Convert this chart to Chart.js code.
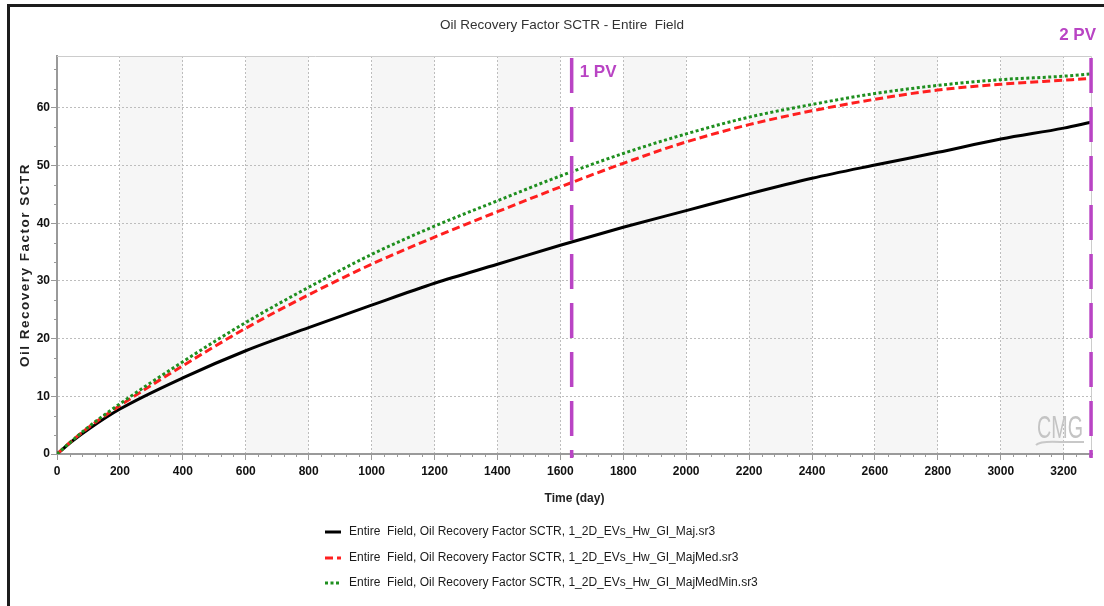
<!DOCTYPE html>
<html>
<head>
<meta charset="utf-8">
<title>Oil Recovery Factor SCTR - Entire Field</title>
<script src="https://cdn.jsdelivr.net/npm/chart.js@4.4.1/dist/chart.umd.min.js"></script>
<style>
  html, body { margin: 0; padding: 0; background: #fff; }
  #wrap { position: relative; width: 1104px; height: 606px; }
  canvas { display: block; }
</style>
</head>
<body>
<div id="wrap"><canvas id="chart" width="1104" height="606"></canvas></div>
<script>
// Simulation output: cumulative oil recovery factor (SCTR, %) vs time (days)
const DAYS        = [0, 50, 100, 200, 400, 600, 800, 1000, 1200, 1400, 1600, 1800, 2000, 2200, 2400, 2600, 2800, 3000, 3200, 3287];
const MAJ         = [0, 2.3, 4.3, 7.8, 13.2, 17.9, 21.9, 25.8, 29.6, 32.9, 36.2, 39.3, 42.2, 45.1, 47.8, 50.1, 52.3, 54.6, 56.5, 57.5];
const MAJ_MED     = [0, 2.4, 4.6, 8.4, 15.3, 21.8, 27.6, 32.9, 37.6, 42.0, 46.3, 50.4, 54.1, 57.1, 59.5, 61.5, 63.1, 64.1, 64.8, 65.1];
const MAJ_MED_MIN = [0, 2.4, 4.7, 8.7, 16.0, 22.8, 28.9, 34.6, 39.5, 43.9, 48.2, 52.1, 55.5, 58.4, 60.6, 62.5, 63.9, 64.9, 65.5, 65.9];

const SERIES_LABELS = [
  'Entire  Field, Oil Recovery Factor SCTR, 1_2D_EVs_Hw_GI_Maj.sr3',
  'Entire  Field, Oil Recovery Factor SCTR, 1_2D_EVs_Hw_GI_MajMed.sr3',
  'Entire  Field, Oil Recovery Factor SCTR, 1_2D_EVs_Hw_GI_MajMedMin.sr3'
];

const X_TICKS = [0, 200, 400, 600, 800, 1000, 1200, 1400, 1600, 1800, 2000, 2200, 2400, 2600, 2800, 3000, 3200];
const Y_TICKS = [0, 10, 20, 30, 40, 50, 60];
const X_MAX = 3290;
const Y_MAX = 69;

// Pore-volume injected markers (days)
const PV_DAYS   = [1636, 3287];
const PV_LABELS = ['1 PV', '2 PV'];

const CHART_TITLE = 'Oil Recovery Factor SCTR - Entire  Field';
const Y_TITLE = 'Oil Recovery Factor SCTR';
const X_TITLE = 'Time (day)';

const FONT = '"Liberation Sans", Arial, sans-serif';
const PURPLE = '#b944c4';

function toPoints(ys) { return DAYS.map((d, i) => ({ x: d, y: ys[i] })); }

const datasets = [
  { label: SERIES_LABELS[0], data: toPoints(MAJ), borderColor: '#000000', borderWidth: 3, borderDash: [], order: 2 },
  { label: SERIES_LABELS[1], data: toPoints(MAJ_MED), borderColor: '#ff1f1f', borderWidth: 3, borderDash: [8, 4], order: 1 },
  { label: SERIES_LABELS[2], data: toPoints(MAJ_MED_MIN), borderColor: '#1f8f1f', borderWidth: 3, borderDash: [3, 2.5], order: 0 }
].map(d => Object.assign(d, { pointRadius: 0, fill: false, cubicInterpolationMode: 'monotone', borderCapStyle: 'butt' }));

const decor = {
  id: 'decor',
  beforeDraw(chart) {
    const { ctx, chartArea: a, scales: { x } } = chart;
    ctx.save();
    ctx.fillStyle = '#ffffff';
    ctx.fillRect(0, 0, chart.width, chart.height);
    // alternating column shading
    ctx.fillStyle = '#f6f6f6';
    for (let i = 1; i < X_TICKS.length; i += 2) {
      const x0 = x.getPixelForValue(X_TICKS[i]);
      const x1 = x.getPixelForValue(Math.min(X_TICKS[i] + 200, X_MAX));
      ctx.fillRect(x0, a.top, x1 - x0, a.bottom - a.top);
    }
    // outer frame
    ctx.strokeStyle = '#1c1c1c';
    ctx.lineWidth = 3;
    ctx.beginPath();
    ctx.moveTo(8.5, chart.height);
    ctx.lineTo(8.5, 5.5);
    ctx.lineTo(chart.width, 5.5);
    ctx.stroke();
    ctx.restore();
  },
  afterDraw(chart) {
    const { ctx, chartArea: a, scales: { x, y } } = chart;
    ctx.save();
    // plot frame top / right
    ctx.strokeStyle = '#cccccc';
    ctx.lineWidth = 1;
    ctx.beginPath();
    ctx.moveTo(a.left, a.top + 0.5);
    ctx.lineTo(a.right - 0.5, a.top + 0.5);
    ctx.lineTo(a.right - 0.5, a.bottom);
    ctx.stroke();

    // minor ticks
    ctx.strokeStyle = '#999999';
    ctx.lineWidth = 1;
    ctx.beginPath();
    for (let v = 40; v < X_MAX; v += 40) {
      if (v % 200 === 0) continue;
      const px = Math.round(x.getPixelForValue(v)) + 0.5;
      ctx.moveTo(px, a.bottom);
      ctx.lineTo(px, a.bottom + 3);
    }
    for (let k = 1; k * 10 / 3 < Y_MAX; k++) {
      if (k % 3 === 0) continue;
      const py = Math.round(y.getPixelForValue(k * 10 / 3)) + 0.5;
      ctx.moveTo(a.left, py);
      ctx.lineTo(a.left - 3, py);
    }
    ctx.stroke();

    // PV marker lines
    ctx.strokeStyle = PURPLE;
    ctx.lineWidth = 3.5;
    ctx.setLineDash([35, 14]);
    PV_DAYS.forEach(d => {
      const px = x.getPixelForValue(d);
      ctx.beginPath();
      ctx.moveTo(px, a.top + 2);
      ctx.lineTo(px, a.bottom + 4);
      ctx.stroke();
    });
    ctx.setLineDash([]);
    ctx.fillStyle = PURPLE;
    ctx.font = 'bold 17px ' + FONT;
    ctx.textBaseline = 'middle';
    ctx.textAlign = 'left';
    ctx.fillText(PV_LABELS[0], x.getPixelForValue(PV_DAYS[0]) + 8, 72);
    ctx.textAlign = 'right';
    ctx.fillText(PV_LABELS[1], 1096, 35);

    // chart title
    ctx.fillStyle = '#333333';
    ctx.font = '13.5px ' + FONT;
    ctx.textAlign = 'center';
    ctx.fillText(CHART_TITLE, 562, 25);

    // y axis title
    ctx.save();
    ctx.translate(25, 265);
    ctx.rotate(-Math.PI / 2);
    ctx.fillStyle = '#222222';
    ctx.font = 'bold 13.5px ' + FONT;
    ctx.letterSpacing = '1.5px';
    ctx.textAlign = 'center';
    ctx.fillText(Y_TITLE, 0, 0);
    ctx.restore();

    // software watermark
    ctx.save();
    ctx.fillStyle = '#c4c4c4';
    ctx.font = '32px "Liberation Sans Narrow", ' + FONT;
    const w = ctx.measureText('CMG').width;
    ctx.translate(1037, 438);
    ctx.scale(46 / w, 1);
    ctx.textAlign = 'left';
    ctx.textBaseline = 'alphabetic';
    ctx.fillText('CMG', 0, 0);
    ctx.restore();
    ctx.strokeStyle = '#c8c8c8';
    ctx.lineWidth = 2;
    ctx.beginPath();
    ctx.moveTo(1036, 445);
    ctx.quadraticCurveTo(1040, 441, 1060, 442);
    ctx.lineTo(1084, 442);
    ctx.stroke();

    // legend
    const rows = [532, 558, 583];
    chart.data.datasets.forEach((ds, i) => {
      const ry = rows[i];
      ctx.strokeStyle = ds.borderColor;
      ctx.lineWidth = 3;
      ctx.setLineDash(ds.borderDash);
      ctx.beginPath();
      ctx.moveTo(325, ry);
      ctx.lineTo(341, ry);
      ctx.stroke();
      ctx.setLineDash([]);
      ctx.fillStyle = '#1a1a1a';
      ctx.font = '12px ' + FONT;
      ctx.textAlign = 'left';
      ctx.textBaseline = 'middle';
      ctx.fillText(ds.label, 349, ry);
    });
    ctx.restore();
  }
};

const gridCommon = { color: '#bdbdbd', lineWidth: 1, tickLength: 6, tickColor: '#999999', drawTicks: true };
const plainNumber = v => String(v);

new Chart(document.getElementById('chart'), {
  type: 'line',
  data: { datasets },
  options: {
    responsive: false,
    animation: false,
    devicePixelRatio: 1,
    layout: { padding: { left: 8, top: 56, right: 12, bottom: 92 } },
    plugins: { legend: { display: false }, tooltip: { enabled: false }, title: { display: false } },
    scales: {
      x: {
        type: 'linear', min: 0, max: X_MAX,
        afterBuildTicks: s => { s.ticks = X_TICKS.map(v => ({ value: v })); },
        afterFit: s => { s.height = 60; },
        grid: gridCommon,
        border: { color: '#9a9a9a', width: 2, dash: [2, 2] },
        ticks: { color: '#111111', font: { family: FONT, size: 12, weight: 'bold' }, padding: 4, maxRotation: 0, autoSkip: false, callback: plainNumber },
        title: { display: true, text: X_TITLE, color: '#222222', font: { family: FONT, size: 12, weight: 'bold' }, padding: { top: 4, bottom: 8 } }
      },
      y: {
        type: 'linear', min: 0, max: Y_MAX,
        afterBuildTicks: s => { s.ticks = Y_TICKS.map(v => ({ value: v })); },
        afterFit: s => { s.width = 49; },
        grid: gridCommon,
        border: { color: '#9a9a9a', width: 2, dash: [2, 2] },
        ticks: { color: '#111111', font: { family: FONT, size: 12, weight: 'bold' }, padding: 1, autoSkip: false, callback: plainNumber }
      }
    }
  },
  plugins: [decor]
});
</script>
</body>
</html>
